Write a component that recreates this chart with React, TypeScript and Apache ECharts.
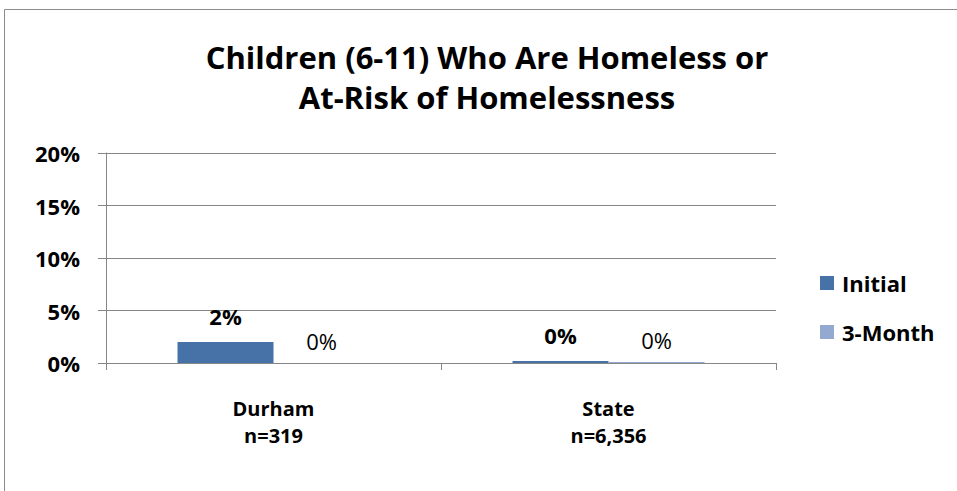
import React, { useEffect, useRef } from "react";
import * as echarts from "echarts";

const titleLines = ["Children (6-11) Who Are Homeless or", "At-Risk of Homelessness"];
const categories = ["Durham\nn=319", "State\nn=6,356"];
const seriesNames = ["Initial", "3-Month"];
const initialValues = [2.0, 0.2];
const threeMonthValues = [0.0, 0.1];
const yTicks = { min: 0, max: 20, interval: 5 };

const FONT = "'Open Sans', Lato, sans-serif";

export default function App() {
  const ref = useRef<HTMLDivElement>(null);
  useEffect(() => {
    if (!ref.current) return;
    const chart = echarts.init(ref.current, null, { renderer: "svg" });
    const pct = (p: any) => Math.round(p.value) + "%";
    chart.setOption({
      animation: false,
      backgroundColor: "#ffffff",
      textStyle: { fontFamily: FONT },
      title: {
        text: titleLines.join("\n"),
        left: 487,
        textAlign: "center",
        top: 37,
        padding: 0,
        textStyle: { fontFamily: FONT, fontWeight: "bold", fontSize: 31, lineHeight: 40, color: "#000" },
      },
      graphic: [
        {
          type: "rect",
          shape: { x: 4.5, y: 9.5, width: 1000, height: 600 },
          style: { fill: "none", stroke: "#8c8c8c", lineWidth: 1 },
          silent: true,
        },
      ],
      legend: {
        orient: "vertical",
        left: 820,
        top: 272,
        padding: 0,
        itemWidth: 14,
        itemHeight: 14,
        itemGap: 27,
        icon: "rect",
        textStyle: {
          fontFamily: FONT,
          fontWeight: "bold",
          fontSize: 22,
          color: "#000",
          lineHeight: 22,
          padding: [0, 0, 0, 3],
        },
        data: seriesNames,
      },
      grid: { left: 106, right: 181, top: 153, bottom: 128, containLabel: false },
      xAxis: {
        type: "category",
        data: categories,
        axisLine: { lineStyle: { color: "#868686", width: 1 } },
        axisTick: { show: true, length: 7, lineStyle: { color: "#868686" } },
        axisLabel: {
          margin: 32,
          fontFamily: FONT,
          fontWeight: "bold",
          fontSize: 20,
          lineHeight: 27,
          color: "#000",
        },
      },
      yAxis: {
        type: "value",
        min: yTicks.min,
        max: yTicks.max,
        interval: yTicks.interval,
        axisLine: { show: true, lineStyle: { color: "#868686", width: 1 } },
        axisTick: { show: true, length: 8, lineStyle: { color: "#868686" } },
        splitLine: { show: true, lineStyle: { color: "#868686", width: 1 } },
        axisLabel: {
          margin: 26,
          formatter: (v: number) => v + "%",
          fontFamily: FONT,
          fontWeight: "bold",
          fontSize: 22,
          color: "#000",
        },
      },
      series: [
        {
          name: seriesNames[0],
          type: "bar",
          data: initialValues,
          barWidth: 96,
          barGap: "0%",
          itemStyle: { color: "#4672a8" },
          label: {
            show: true,
            position: "top",
            distance: 15,
            formatter: pct,
            fontFamily: FONT,
            fontWeight: "bold",
            fontSize: 22,
            color: "#000",
          },
        },
        {
          name: seriesNames[1],
          type: "bar",
          data: threeMonthValues,
          barWidth: 96,
          barGap: "0%",
          itemStyle: { color: "#93a9d0" },
          label: {
            show: true,
            position: "top",
            distance: 11,
            formatter: pct,
            fontFamily: FONT,
            fontWeight: "normal",
            fontSize: 22,
            color: "#000",
          },
        },
      ],
    });
    return () => chart.dispose();
  }, []);
  return (
    <div
      ref={ref}
      style={{ position: "fixed", left: 0, top: 0, width: 957, height: 491 }}
    />
  );
}
